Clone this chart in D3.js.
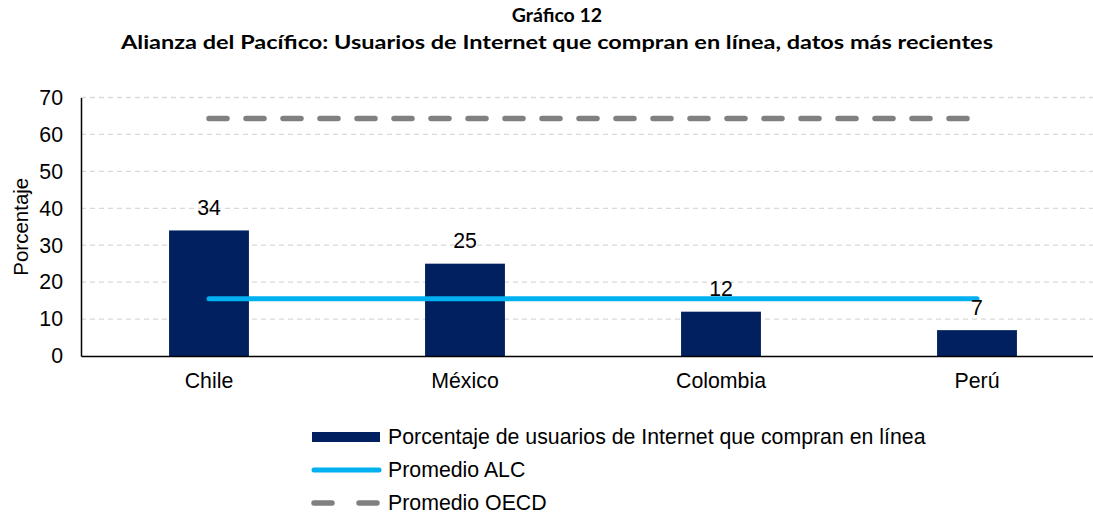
<!DOCTYPE html>
<html><head><meta charset="utf-8">
<script src="https://cdn.jsdelivr.net/npm/d3@7"></script>
<style>body{margin:0;background:#fff;}svg{display:block;}</style>
</head><body>
<svg id="c" width="1093" height="516"></svg>
<script>
const categories = ["Chile", "México", "Colombia", "Perú"];
const barValues = [34, 25, 12, 7];
const alcValues = [15.5, 15.5, 15.5, 15.5];
const oecdValues = [64.3, 64.3, 64.3, 64.3];
const yTicks = [0, 10, 20, 30, 40, 50, 60, 70];
const titleLines = ["Gráfico 12", "Alianza del Pacífico: Usuarios de Internet que compran en línea, datos más recientes"];
const yAxisTitle = "Porcentaje";
const legendLabels = ["Porcentaje de usuarios de Internet que compran en línea", "Promedio ALC", "Promedio OECD"];

const svg = d3.select("#c");
const m = {left: 81, right: 1105, top: 97.5, bottom: 356};
const x = d3.scaleBand().domain(categories).range([m.left, m.right]).paddingInner(0.688).paddingOuter(0.344);
const y = d3.scaleLinear().domain([0, 70]).range([m.bottom, m.top]);
const font = "'Liberation Sans', Arial, sans-serif";
const fs = 21.3;
const navy = "#002060", cyan = "#00B0F0", gray = "#808080";

// title
const tl = svg.selectAll("text.title").data(titleLines).enter().append("text")
  .attr("x", 557).attr("y", (d, i) => 22 + i * 27)
  .attr("text-anchor", "middle").attr("font-family", "Lato, 'Open Sans', sans-serif")
  .attr("font-weight", "bold").attr("font-size", 19.5).attr("fill", "#000").text(d => d);
tl.filter((d, i) => i === 1).attr("textLength", 872).attr("lengthAdjust", "spacingAndGlyphs");

// gridlines
svg.append("g").selectAll("line").data(yTicks.filter(t => t > 0)).enter().append("line")
  .attr("x1", m.left).attr("x2", 1093).attr("y1", d => y(d)).attr("y2", d => y(d))
  .attr("stroke", "#d9d9d9").attr("stroke-width", 1.3).attr("stroke-dasharray", "5,4");

// y axis
const yAxis = svg.append("g").attr("transform", `translate(${m.left},0)`)
  .call(d3.axisLeft(y).tickValues(yTicks).tickSize(0).tickPadding(18));
yAxis.select(".domain").attr("stroke", "#000").attr("stroke-width", 1.5);
yAxis.selectAll("text").attr("font-family", font).attr("font-size", fs).attr("fill", "#000");

svg.append("text").attr("transform", `translate(21,${(m.top + m.bottom) / 2}) rotate(-90)`)
  .attr("text-anchor", "middle").attr("dy", "0.35em").attr("font-family", font).attr("font-size", 20.5).text(yAxisTitle);

// bars
svg.append("g").selectAll("rect").data(barValues).enter().append("rect")
  .attr("x", (d, i) => x(categories[i])).attr("width", x.bandwidth())
  .attr("y", d => y(d)).attr("height", d => y(0) - y(d)).attr("fill", navy);

// x axis
const xAxis = svg.append("g").attr("transform", `translate(0,${m.bottom})`)
  .call(d3.axisBottom(x).tickSize(0).tickPadding(17));
xAxis.select(".domain").attr("stroke", "#000").attr("stroke-width", 1.5);
xAxis.selectAll("text").attr("font-family", font).attr("font-size", fs).attr("fill", "#000");

// lines
const cx = c => x(c) + x.bandwidth() / 2;
const line = d3.line().x((d, i) => cx(categories[i])).y(d => y(d));
svg.append("path").datum(oecdValues).attr("d", line).attr("fill", "none")
  .attr("stroke", gray).attr("stroke-width", 5.5).attr("stroke-linecap", "round").attr("stroke-dasharray", "18,19");
svg.append("path").datum(alcValues).attr("d", line).attr("fill", "none")
  .attr("stroke", cyan).attr("stroke-width", 5).attr("stroke-linecap", "round");

// data labels
svg.append("g").selectAll("text").data(barValues).enter().append("text")
  .attr("x", (d, i) => cx(categories[i])).attr("y", d => y(d) - 23).attr("dy", "0.35em")
  .attr("text-anchor", "middle").attr("font-family", font).attr("font-size", fs).attr("fill", "#000").text(d => d);

// legend
const lg = svg.append("g");
const lx = 312, ly = [437, 470, 503];
lg.append("rect").attr("x", lx).attr("y", ly[0] - 5).attr("width", 68).attr("height", 10).attr("fill", navy);
lg.append("line").attr("x1", lx + 2).attr("x2", lx + 67).attr("y1", ly[1]).attr("y2", ly[1])
  .attr("stroke", cyan).attr("stroke-width", 5).attr("stroke-linecap", "round");
lg.append("line").attr("x1", lx + 2).attr("x2", lx + 67).attr("y1", ly[2]).attr("y2", ly[2])
  .attr("stroke", gray).attr("stroke-width", 5.5).attr("stroke-linecap", "round").attr("stroke-dasharray", "18,27");
lg.selectAll("text").data(legendLabels).enter().append("text")
  .attr("x", lx + 76).attr("y", (d, i) => ly[i]).attr("dy", "0.35em")
  .attr("font-family", font).attr("font-size", fs).attr("fill", "#000").text(d => d);
</script>
</body></html>
